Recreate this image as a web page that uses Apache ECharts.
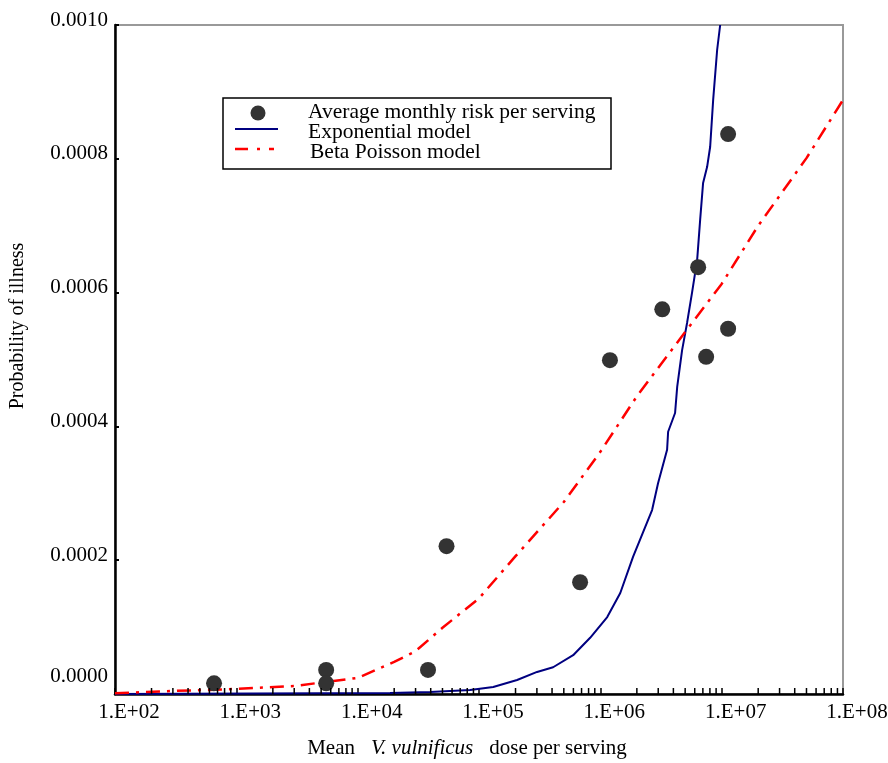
<!DOCTYPE html>
<html>
<head>
<meta charset="utf-8">
<script src="https://cdn.jsdelivr.net/npm/echarts@6/dist/echarts.min.js"></script>
<style>
html,body{margin:0;padding:0;background:#fff;}
#chart{width:888px;height:763px;}
</style>
</head>
<body>
<div id="chart"></div>
<script>
// ---- Data ----
var seriesNames = ['Average monthly risk per serving', 'Exponential model', 'Beta Poisson model'];

// Observed points: [dose, probability]
var observedDose = [655, 5500, 5500, 38000, 54000, 681000, 1200000, 3240000, 6400000, 7450000, 11300000, 11300000];
var observedRisk = [1.6e-5, 3.6e-5, 1.6e-5, 3.6e-5, 2.21e-4, 1.67e-4, 4.99e-4, 5.75e-4, 6.38e-4, 5.04e-4, 5.46e-4, 8.37e-4];

// Exponential model curve
var expDose = [100, 18500, 39500, 84500, 131000, 206000, 301000, 408000, 597000, 824000, 1140000, 1460000, 1860000, 2670000, 2990000, 3550000, 3620000, 4130000, 4300000, 4720000, 5190000, 5700000, 6280000, 6650000, 7030000, 7590000, 8040000, 8510000, 9180000, 9720000];
var expRisk = [0, 1.5e-6, 3e-6, 6e-6, 1.05e-5, 2.1e-5, 3.3e-5, 4.0e-5, 5.8e-5, 8.4e-5, 1.15e-4, 1.51e-4, 2.05e-4, 2.75e-4, 3.15e-4, 3.65e-4, 3.92e-4, 4.2e-4, 4.59e-4, 5.14e-4, 5.55e-4, 6.0e-4, 6.49e-4, 7.09e-4, 7.64e-4, 7.88e-4, 8.18e-4, 8.88e-4, 9.63e-4, 1.0e-3];

// Beta Poisson model curve
var bpDose = [100, 300, 1000, 3000, 10000, 20000, 30000, 50000, 100000, 200000, 500000, 1000000, 2000000, 5000000, 10000000, 20000000, 50000000, 100000000];
var bpRisk = [1e-6, 4.5e-6, 7.5e-6, 1.2e-5, 2.4e-5, 4.8e-5, 6.4e-5, 9.9e-5, 1.43e-4, 2.06e-4, 2.87e-4, 3.62e-4, 4.45e-4, 5.41e-4, 6.13e-4, 7.0e-4, 8.01e-4, 8.88e-4];

// Axis ticks
var xDecades = [100, 1000, 10000, 100000, 1000000, 10000000, 100000000];
var xTickLabels = ['1.E+02', '1.E+03', '1.E+04', '1.E+05', '1.E+06', '1.E+07', '1.E+08'];
var minorMultipliers = [2, 3, 4, 5, 6, 7, 8, 9];
var yTicks = [0, 0.0002, 0.0004, 0.0006, 0.0008, 0.0010];
var yTickLabels = ['0.0000', '0.0002', '0.0004', '0.0006', '0.0008', '0.0010'];

// ---- Build ----
function zip(a, b) { return a.map(function (v, i) { return [v, b[i]]; }); }
var minorTicks = [];
for (var d = 0; d < xDecades.length - 1; d++) {
  minorMultipliers.forEach(function (m) { minorTicks.push([xDecades[d] * m, 0]); });
}

var FONT = '"Liberation Serif", "DejaVu Serif", serif';
var POINT_COLOR = '#333333', EXP_COLOR = '#000080', BP_COLOR = '#ff0000';
var BP_DASH = [14, 7, 3, 7];
var chart = echarts.init(document.getElementById('chart'), null, {renderer: 'canvas'});

var option = {
  backgroundColor: '#ffffff',
  animation: false,
  grid: {left: 115, right: 45, top: 25, bottom: 69, outerBoundsMode: 'none', containLabel: false,
         show: true, borderColor: '#999999', borderWidth: 2, backgroundColor: 'transparent'},
  xAxis: {
    type: 'log',
    logBase: 10,
    min: xDecades[0],
    max: xDecades[xDecades.length - 1],
    axisLine: {show: true, lineStyle: {color: '#000', width: 2.5}},
    axisTick: {show: true, inside: true, length: 6, lineStyle: {color: '#000', width: 1.5}},
    splitLine: {show: false},
    minorTick: {show: false},
    axisLabel: {
      show: true, margin: 8, fontFamily: FONT, fontSize: 21, color: '#000',
      padding: [0, 0, 0, 28],
      formatter: function (v) {
        var i = -1;
        for (var k = 0; k < xDecades.length; k++) if (Math.abs(xDecades[k] - v) / xDecades[k] < 1e-6) i = k;
        return i >= 0 ? xTickLabels[i] : '';
      }
    }
  },
  yAxis: {
    type: 'value',
    min: 0,
    max: 0.001,
    interval: 0.0002,
    axisLine: {show: true, lineStyle: {color: '#000', width: 2.5}},
    axisTick: {show: true, inside: true, length: 4, lineStyle: {color: '#000', width: 2}},
    splitLine: {show: false},
    axisLabel: {
      show: true, margin: 7, fontFamily: FONT, fontSize: 21, color: '#000',
      formatter: function (v) {
        var i = -1;
        for (var k = 0; k < yTicks.length; k++) if (Math.abs(yTicks[k] - v) < 1e-9) i = k;
        var t = i >= 0 ? yTickLabels[i] : v.toFixed(4);
        return i === 0 ? '{z|' + t + '}' : '{n|' + t + '}';
      },
      rich: {
        n: {fontFamily: FONT, fontSize: 21, color: '#000', padding: [0, 0, 10, 0]},
        z: {fontFamily: FONT, fontSize: 21, color: '#000', padding: [0, 0, 36, 0]}
      }
    }
  },
  series: [
    {
      name: seriesNames[0],
      type: 'scatter',
      symbol: 'circle',
      symbolSize: 16,
      itemStyle: {color: POINT_COLOR, opacity: 1},
      data: zip(observedDose, observedRisk),
      z: 5
    },
    {
      name: seriesNames[1],
      type: 'line',
      symbol: 'none',
      smooth: false,
      lineStyle: {color: EXP_COLOR, width: 2},
      itemStyle: {color: EXP_COLOR},
      data: zip(expDose, expRisk),
      z: 3
    },
    {
      name: seriesNames[2],
      type: 'line',
      symbol: 'none',
      smooth: false,
      lineStyle: {color: BP_COLOR, width: 2.5, type: BP_DASH},
      itemStyle: {color: BP_COLOR},
      data: zip(bpDose, bpRisk),
      z: 4
    },
    {
      name: 'minorTicks',
      type: 'custom',
      silent: true,
      clip: false,
      z: 6,
      data: minorTicks,
      renderItem: function (params, api) {
        var p = api.coord([api.value(0), 0]);
        return {
          type: 'line',
          shape: {x1: p[0], y1: p[1], x2: p[0], y2: p[1] - 6},
          style: {stroke: '#000', lineWidth: 1.5}
        };
      }
    }
  ],
  graphic: [
    // Legend box
    {type: 'rect', shape: {x: 223, y: 98, width: 388, height: 71}, style: {fill: '#fff', stroke: '#000', lineWidth: 1.5}, z: 10},
    {type: 'circle', shape: {cx: 258, cy: 113, r: 7.5}, style: {fill: POINT_COLOR}, z: 11},
    {type: 'line', shape: {x1: 235, y1: 129, x2: 278, y2: 129}, style: {stroke: EXP_COLOR, lineWidth: 2}, z: 11},
    {type: 'line', shape: {x1: 235, y1: 149, x2: 274, y2: 149}, style: {stroke: BP_COLOR, lineWidth: 2.5, lineDash: [13, 9, 3, 9]}, z: 11},
    {type: 'text', x: 308, y: 112, style: {text: seriesNames[0], font: '21.5px ' + FONT, fill: '#000', verticalAlign: 'middle'}, z: 11},
    {type: 'text', x: 308, y: 132, style: {text: seriesNames[1], font: '21.5px ' + FONT, fill: '#000', verticalAlign: 'middle'}, z: 11},
    {type: 'text', x: 310, y: 152, style: {text: seriesNames[2], font: '21.5px ' + FONT, fill: '#000', verticalAlign: 'middle'}, z: 11},
    // Axis titles
    {
      type: 'text',
      x: 18, y: 326,
      rotation: Math.PI / 2,
      style: {text: 'Probability of illness', font: '20px ' + FONT, fill: '#000', align: 'center', verticalAlign: 'middle'}
    },
    {
      type: 'text',
      x: 467, y: 748,
      style: {
        text: '{a|Mean}{g|}{i|V. vulnificus}{g|}{a|dose per serving}',
        align: 'center', verticalAlign: 'middle',
        rich: {
          a: {fontFamily: FONT, fontSize: 21, fill: '#000'},
          i: {fontFamily: FONT, fontSize: 21, fontStyle: 'italic', fill: '#000'},
          g: {width: 16}
        }
      }
    }
  ]
};
chart.setOption(option);
</script>
</body>
</html>
